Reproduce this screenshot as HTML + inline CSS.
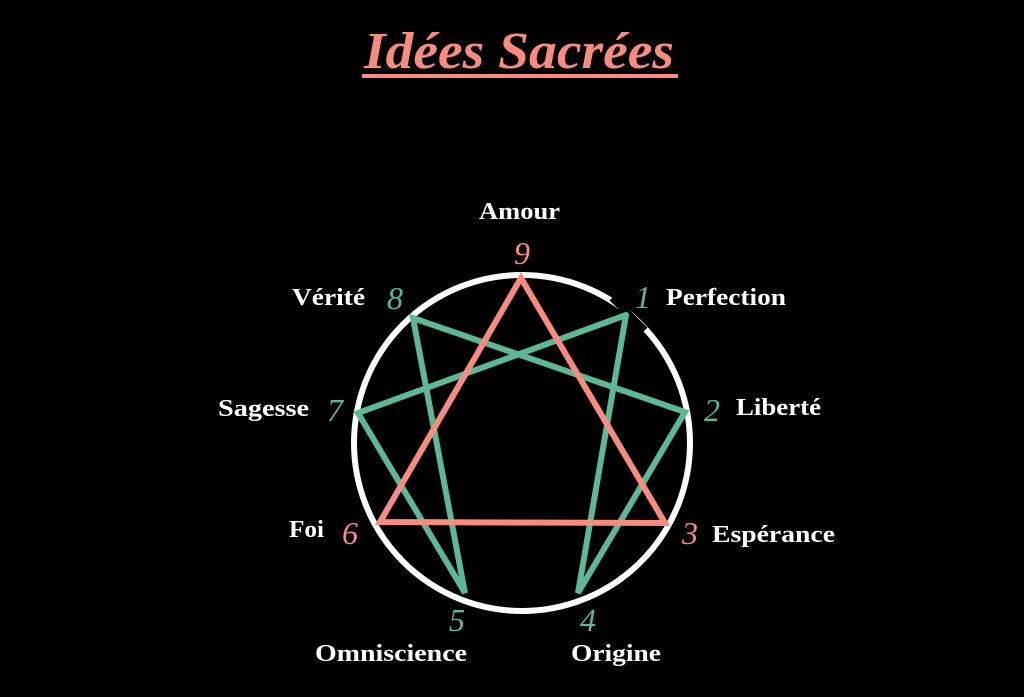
<!DOCTYPE html>
<html><head><meta charset="utf-8"><style>
html,body{margin:0;padding:0;background:#000;}
svg{display:block;}
</style></head><body>
<svg width="1024" height="697" viewBox="0 0 1024 697" xmlns="http://www.w3.org/2000/svg">
<rect width="1024" height="697" fill="#000"/>
<text x="364" y="68" textLength="310" lengthAdjust="spacingAndGlyphs" font-family="'Liberation Serif',serif" font-style="italic" font-weight="bold" font-size="52" fill="#f98b7f">Idées Sacrées</text>
<rect x="362" y="74" width="316" height="4" fill="#f98b7f"/>
<circle cx="522" cy="443" r="168" fill="none" stroke="#fff" stroke-width="6"/>
<line x1="612" y1="298" x2="645" y2="330" stroke="#000" stroke-width="7"/>
<g stroke="#5cb895" stroke-width="6" stroke-linecap="round" fill="none">
<polyline points="626,315 578,593 685,412 413,318 465,593 358,413 626,315"/>
</g>
<g stroke="#f98b7f" stroke-width="6" stroke-linecap="round" fill="none">
<polygon points="521,278 665,523 380,522"/>
</g>
<g font-family="'Liberation Serif',serif" font-weight="bold" font-size="24" fill="#fff">
<text x="479" y="219" textLength="81" lengthAdjust="spacingAndGlyphs">Amour</text>
<text x="666" y="305" textLength="120" lengthAdjust="spacingAndGlyphs">Perfection</text>
<text x="736" y="415" textLength="85" lengthAdjust="spacingAndGlyphs">Liberté</text>
<text x="712" y="542" textLength="123" lengthAdjust="spacingAndGlyphs">Espérance</text>
<text x="571" y="661" textLength="90" lengthAdjust="spacingAndGlyphs">Origine</text>
<text x="315" y="661" textLength="152" lengthAdjust="spacingAndGlyphs">Omniscience</text>
<text x="289" y="537" textLength="35" lengthAdjust="spacingAndGlyphs">Foi</text>
<text x="218" y="416" textLength="91" lengthAdjust="spacingAndGlyphs">Sagesse</text>
<text x="292" y="305" textLength="73" lengthAdjust="spacingAndGlyphs">Vérité</text>
</g>
<g font-family="'Liberation Serif',serif" font-style="italic" font-size="32">
<text x="522" y="264" text-anchor="middle" fill="#f98b7f">9</text>
<text x="643" y="308" text-anchor="middle" fill="#5cb895">1</text>
<text x="712" y="421" text-anchor="middle" fill="#5cb895">2</text>
<text x="690" y="544" text-anchor="middle" fill="#f98b7f">3</text>
<text x="588" y="631" text-anchor="middle" fill="#5cb895">4</text>
<text x="457" y="631" text-anchor="middle" fill="#5cb895">5</text>
<text x="350" y="544" text-anchor="middle" fill="#f98b7f">6</text>
<text x="335" y="421" text-anchor="middle" fill="#5cb895">7</text>
<text x="395" y="309" text-anchor="middle" fill="#5cb895">8</text>
</g>
</svg>
</body></html>
